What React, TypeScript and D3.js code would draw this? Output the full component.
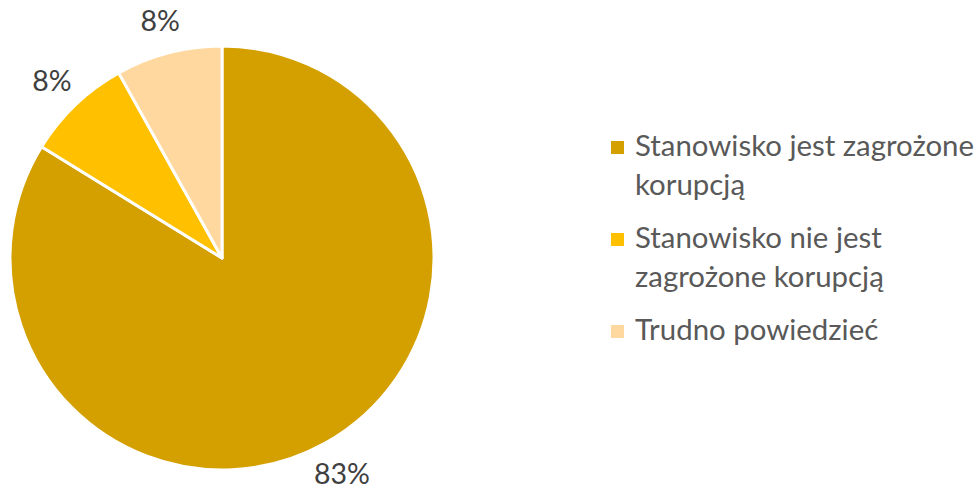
import React, { useEffect } from "react";
import * as d3 from "d3";

const categories = ["Stanowisko jest zagrożone korupcją", "Stanowisko nie jest zagrożone korupcją", "Trudno powiedzieć"];
const legendLines = [["Stanowisko jest zagrożone", "korupcją"], ["Stanowisko nie jest", "zagrożone korupcją"], ["Trudno powiedzieć"]];
const values = [83.8, 8.1, 8.1];
const valueLabels = ["83%", "8%", "8%"];
const colors = ["#D4A000", "#FFC000", "#FFD8A0"];

const W = 979, H = 491;
const cx = 222, cy = 258, R = 212;
const labelR = 246;
const FONT = "Lato, 'Noto Sans', sans-serif";

export default function App() {
  useEffect(() => { document.body.style.margin = "0"; }, []);
  const pie = d3.pie<number>().sort(null).value(d => d)(values);
  const arc = d3.arc<d3.PieArcDatum<number>>().innerRadius(0).outerRadius(R);
  const labelArc = d3.arc<d3.PieArcDatum<number>>().innerRadius(labelR).outerRadius(labelR);
  const legendY = d3.scaleLinear().domain([0, 1]).range([156, 248]);
  return (
    <svg width={W} height={H} style={{ display: "block" }} fontFamily={FONT}>
      <g transform={`translate(${cx},${cy})`}>
        {pie.map((p, i) => (
          <path key={i} d={arc(p) || ""} fill={colors[i]} stroke="#fff" strokeWidth={3} strokeLinejoin="round" />
        ))}
        {pie.map((p, i) => {
          const [x, y] = labelArc.centroid(p);
          return (
            <text key={i} x={x} y={y} textAnchor="middle" dominantBaseline="central" fontSize={28.5} fill="#404040">
              {valueLabels[i]}
            </text>
          );
        })}
      </g>
      {categories.map((c, i) => {
        const by = legendY(i);
        return (
          <g key={c}>
            <rect x={611} y={by - 15} width={13} height={13} fill={colors[i]} />
            {legendLines[i].map((l, j) => (
              <text key={j} x={635} y={by + j * 39} fontSize={29.4} fill="#595959">{l}</text>
            ))}
          </g>
        );
      })}
    </svg>
  );
}
